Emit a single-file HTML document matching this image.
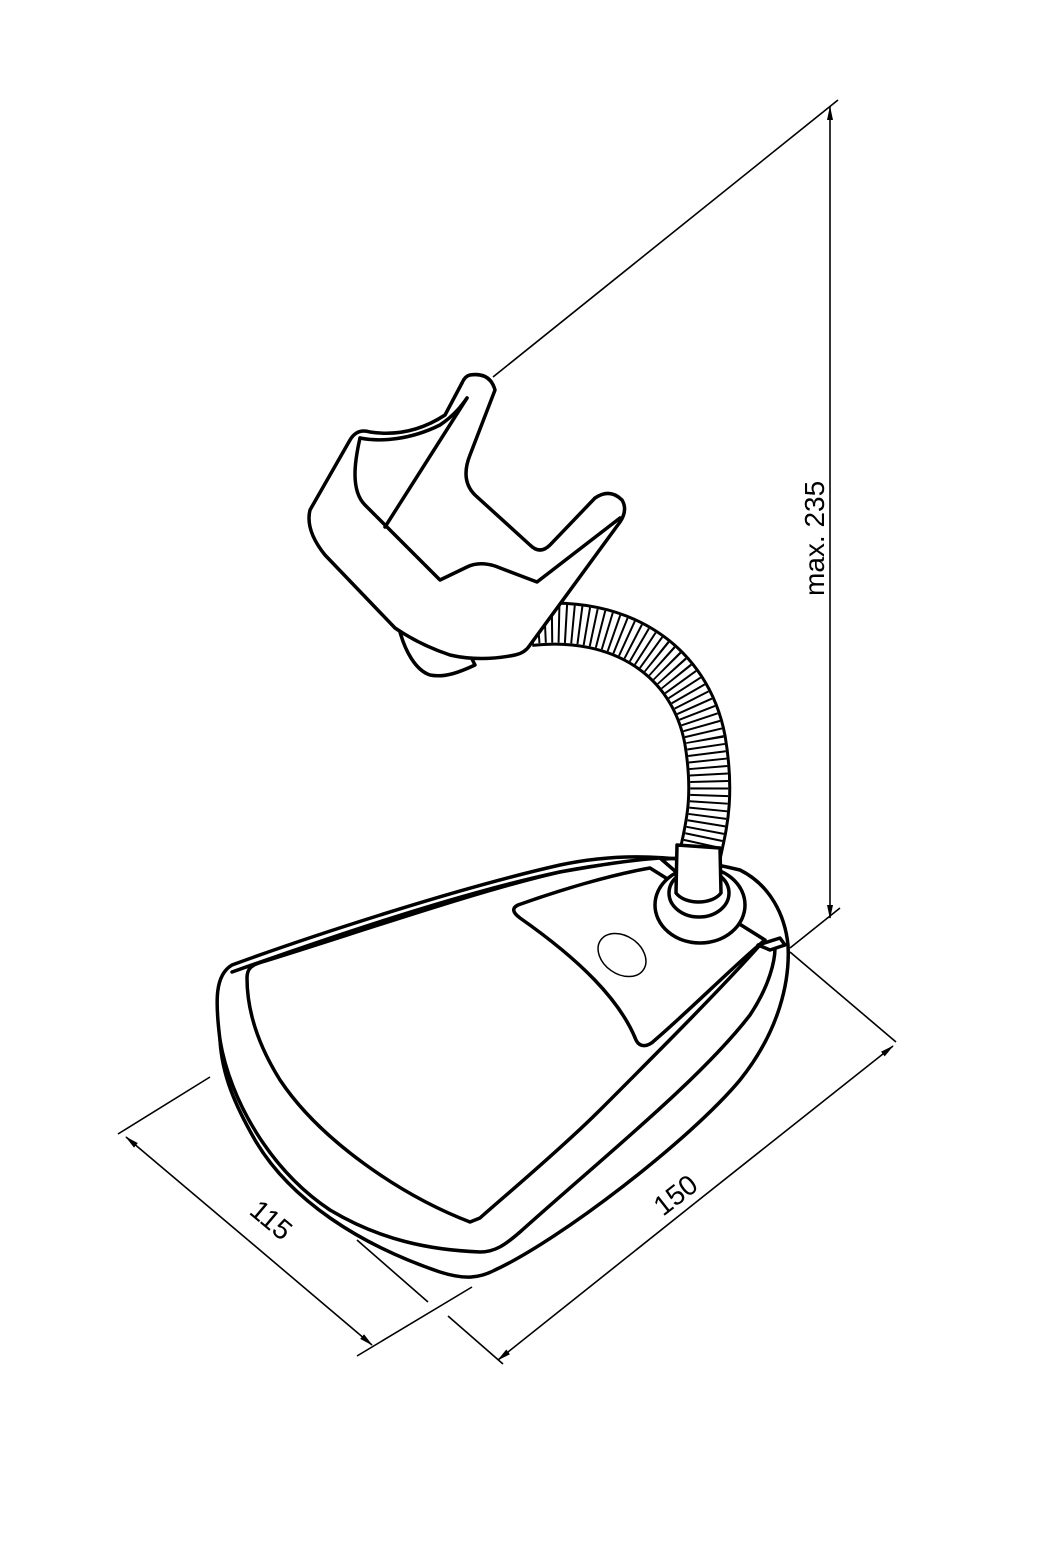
<!DOCTYPE html>
<html><head><meta charset="utf-8"><style>
html,body{margin:0;padding:0;background:#fff;}
svg{display:block;}
text{font-family:"Liberation Sans",sans-serif;font-size:28px;fill:#000;}
</style></head><body>
<svg width="1063" height="1559" viewBox="0 0 1063 1559" xmlns="http://www.w3.org/2000/svg">
<defs>
<marker id="ar" markerWidth="14" markerHeight="8" refX="13" refY="4" orient="auto" markerUnits="userSpaceOnUse">
<path d="M0,1 L14,4 L0,7 Z" fill="#000"/></marker>
</defs>
<g fill="none" stroke="#000" stroke-width="1.6">
<line x1="493" y1="377" x2="838" y2="100"/>
<line x1="790" y1="948" x2="840" y2="908"/>
<line x1="830" y1="500" x2="830" y2="107" marker-end="url(#ar)"/>
<line x1="830" y1="500" x2="830" y2="918" marker-end="url(#ar)"/>
<line x1="118" y1="1134" x2="210" y2="1077"/>
<line x1="357" y1="1356" x2="472" y2="1287"/>
<line x1="357" y1="1240" x2="428" y2="1302"/>
<line x1="248" y1="1240" x2="126" y2="1137" marker-end="url(#ar)"/>
<line x1="248" y1="1240" x2="372" y2="1345" marker-end="url(#ar)"/>
<line x1="448" y1="1316" x2="503" y2="1364"/>
<line x1="790" y1="952" x2="896" y2="1042"/>
<line x1="695" y1="1203" x2="893" y2="1046" marker-end="url(#ar)"/>
<line x1="695" y1="1203" x2="498" y2="1360" marker-end="url(#ar)"/>
</g>
<text transform="translate(824,596) rotate(-90)">max. 235</text>
<text transform="translate(248,1213) rotate(40)">115</text>
<text transform="translate(663,1217) rotate(-38)">150</text>

<g fill="none">
<path d="M530,625 C620,615 690,660 705,740 C715,800 705,830 700,855" stroke="#000" stroke-width="44"/>
<path d="M530,625 C620,615 690,660 705,740 C715,800 705,830 700,855" stroke="#fff" stroke-width="38"/>
<path d="M530,625 C620,615 690,660 705,740 C715,800 705,830 700,855" stroke="#000" stroke-width="38" stroke-dasharray="2 5"/>
</g>

<g fill="#fff" stroke="#000" stroke-width="3.5" stroke-linejoin="round" stroke-linecap="round">
<path d="M220,1040 C215,1000 215,975 232,965 C300,940 450,890 560,865 C620,852 680,855 740,870 C770,885 785,915 788,945 C790,980 780,1030 740,1080 C690,1140 560,1240 495,1270 C480,1278 465,1280 440,1272 C360,1245 290,1200 255,1140 C235,1105 222,1075 220,1040 Z"/>
<path d="M220,1040 C230,1100 270,1170 330,1210 C380,1240 430,1250 480,1252 C495,1252 505,1245 520,1232 C600,1160 700,1080 750,1015 C770,985 775,960 775,948" fill="none"/>
<path d="M232,972 C300,948 450,895 560,872 C610,862 650,860 680,858" fill="none"/>
<path d="M470,1222 C400,1195 320,1140 280,1080 C255,1040 247,1005 247,978 C247,968 252,965 262,962 C350,935 480,890 560,872 C600,865 630,860 660,858 L760,945 C720,990 650,1060 600,1110 C560,1150 500,1200 480,1218 Z"/>
<path d="M518,905 C560,890 610,875 650,868 L765,940 C740,960 690,1010 655,1040 C648,1047 640,1048 636,1040 C620,1000 580,960 520,918 C512,912 512,908 518,905 Z"/>
<path d="M758,945 L780,938 L785,945 L770,950 Z"/>
<ellipse cx="700" cy="905" rx="45" ry="38"/>
<ellipse cx="699" cy="893" rx="30" ry="24"/>
<path d="M677,845 L676,893 C685,905 712,905 721,893 L720,848 Z"/>
</g>
<ellipse cx="622" cy="955" rx="26" ry="19" transform="rotate(35 622 955)" fill="none" stroke="#000" stroke-width="1.5"/>

<g fill="#fff" stroke="#000" stroke-width="3.5" stroke-linejoin="round" stroke-linecap="round">
<path d="M400,632 C405,650 415,670 430,675 C445,678 460,672 475,665 L470,655 Z"/>
<path d="M470,375 Q490,372 495,390 L470,455 Q460,480 475,495 L530,545 Q540,555 550,545 L595,498 Q610,488 622,500 Q628,510 620,522 L530,645 Q525,653 515,655 Q480,662 450,655 Q420,645 395,628 L325,555 Q305,530 310,510 L350,440 Q357,428 370,432 Q410,438 445,415 L462,383 Q465,376 470,375 Z"/>
<path d="M360,438 C355,460 350,490 365,505 L440,580 L467,567 C475,563 485,563 495,566 L537,582 L620,518" fill="none"/>
<path d="M360,438 C380,442 410,440 440,425 C455,415 462,405 467,398" fill="none"/>
<path d="M467,398 L385,527" fill="none"/>
</g>
</svg>
</body></html>
